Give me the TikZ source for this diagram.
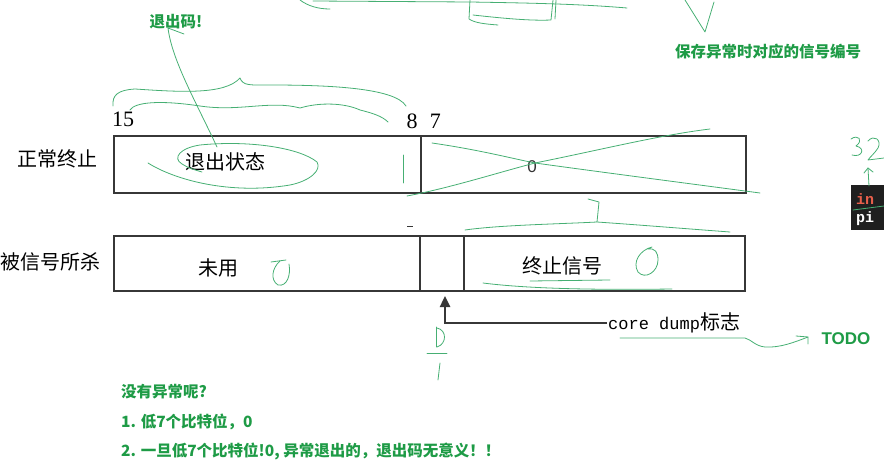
\documentclass[tikz,border=0pt]{standalone}
\usepackage{fontspec}
\usetikzlibrary{arrows.meta,positioning}
\newfontfamily\cjk{Noto Sans CJK SC}
\newfontfamily\numfont{Liberation Serif}
\newfontfamily\monofont{Liberation Mono}
\newfontfamily\latinsans{Liberation Sans}
\definecolor{notegreen}{RGB}{30,155,70}
\definecolor{pengreen}{RGB}{70,175,115}
\definecolor{boxgray}{RGB}{55,55,55}
\definecolor{codered}{RGB}{232,95,75}

\begin{document}
\begin{tikzpicture}[x=1pt, y=-1pt,
    field/.style={draw=boxgray, line width=2.2pt, anchor=north west, inner sep=0pt},
    rowlabel/.style={font=\cjk\fontsize{20}{24}\selectfont, inner sep=0pt},
    fieldtext/.style={font=\cjk\fontsize{20}{24}\selectfont, inner sep=0pt},
    bitnum/.style={font=\numfont\fontsize{22}{26}\selectfont, inner sep=0pt},
    note/.style={font=\cjk\bfseries\fontsize{15.5}{18}\selectfont, text=notegreen, inner sep=0pt},
    pen/.style={draw=pengreen, line width=0.8pt, line cap=round, line join=round},
    dumpline/.style={draw=boxgray, line width=2.4pt, -{Triangle[length=11pt, width=10pt]}}]
    \useasboundingbox (0,0) rectangle (884,468);

    \node (hi1) [field, minimum width=307pt, minimum height=57pt] at (113,135) {};
    \node (lo1) [field, minimum width=325pt, minimum height=57pt] at (420,135) {};
    \node (hi2) [field, minimum width=306pt, minimum height=55pt] at (113,235) {};
    \node (core2) [field, minimum width=44pt, minimum height=55pt] at (419,235) {};
    \node (sig2) [field, minimum width=281pt, minimum height=55pt] at (463,235) {};

    \node (b15) [bitnum] at (123,119) {15};
    \node (b8) [bitnum] at (412,121) {8};
    \node (b7) [bitnum, right=12pt of b8] {7};

    \node (normal) [rowlabel] at (57,159) {正常终止};
    \node (killed) [rowlabel, anchor=east] at (101,262) {被信号所杀};

    \node (exitstatus) [fieldtext] at (225,162) {退出状态};
    \node (zero) [font=\latinsans\fontsize{17}{20}\selectfont, inner sep=0pt, text=black!80] at (532,167) {0};
    \node (unused) [fieldtext] at (218,268) {未用};
    \node (termsig) [fieldtext] at (562,266) {终止信号};

    \coordinate (corebit) at (445,296);
    \node (cdlabel) [anchor=west, inner sep=1pt, font=\cjk\fontsize{20}{24}\selectfont] at (607,323) {{\monofont\fontsize{17}{20}\selectfont core dump}标志};
    \draw[dumpline] (cdlabel.west) -| (corebit);
    \draw[boxgray, line width=1pt] (407,226) -- (413,226);

    \node (exitcode) [note] at (176,22) {退出码!};
    \node (savesig) [note] at (768,52) {保存异常时对应的信号编号};
    \node (todo) [note, font=\latinsans\bfseries\fontsize{17}{20}\selectfont] at (846,339) {TODO};
    \node (q) [note, anchor=west] at (121,392) {没有异常呢?};
    \node (a1) [note, anchor=west] at (121,422) {1. 低7个比特位，0};
    \node (a2) [note, anchor=west] at (121,451) {2. 一旦低7个比特位!0, 异常退出的，退出码无意义！！};

    \node (term) [fill=black!88, minimum width=40pt, minimum height=45pt, anchor=north west] at (851,185) {};
    \node (termin) [anchor=west, inner sep=0pt, text=codered, font=\monofont\bfseries\fontsize{15}{17}\selectfont] at (856,199) {in};
    \node (termpi) [anchor=west, inner sep=0pt, text=white, font=\monofont\bfseries\fontsize{15}{17}\selectfont] at (856,219) {pi};

    \draw[pen] (300,0) .. controls (308,6) and (318,9) .. (330,9);
    \draw[pen] (313,1) -- (470,2) .. controls (530,3) and (580,4) .. (627,8);
    \draw[pen] (470,0) -- (469,19) .. controls (475,23) and (485,24) .. (498,25);
    \draw[pen] (473,15) .. controls (500,18) and (530,21) .. (551,20) -- (553,0);
    \draw[pen] (556,0) -- (555,19);
    \draw[pen] (685,0) -- (705,32) -- (714,2);

    \draw[pen] (113,106) .. controls (112,95) and (118,90) .. (135,89) .. controls (180,92) and (225,95) .. (240,78) .. controls (243,86) and (250,85) .. (270,85) .. controls (330,85) and (395,88) .. (406,106);
    \draw[pen] (130,110) .. controls (135,102) and (160,100) .. (200,106) .. controls (240,112) and (270,100) .. (300,108) .. controls (320,102) and (345,103) .. (360,110) .. controls (372,113) and (382,116) .. (388,122);
    \draw[pen] (217,147) .. controls (195,100) and (172,60) .. (168,28) -- (184,34);
    \draw[pen] (148,163) .. controls (175,180) and (230,195) .. (290,185) .. controls (310,181) and (322,170) .. (317,162) .. controls (300,148) and (250,140) .. (200,145) .. controls (180,148) and (172,158) .. (182,164) .. controls (188,168) and (195,170) .. (202,172);
    \draw[pen] (403,155) -- (403,183);
    \draw[pen] (432,143) .. controls (480,150) and (510,158) .. (535,163) .. controls (600,172) and (700,185) .. (760,193);
    \draw[pen] (407,196) .. controls (450,188) and (500,172) .. (535,163) .. controls (600,150) and (660,135) .. (710,129);

    \draw[pen] (465,230) .. controls (500,225) and (560,224) .. (597,222) -- (599,202) -- (588,199);
    \draw[pen] (597,222) .. controls (640,225) and (690,229) .. (730,232);
    \draw[pen] (483,283) .. controls (530,289) and (600,290) .. (672,289);
    \draw[pen] (530,281) -- (610,280);
    \draw[pen] (652,247) .. controls (640,250) and (632,262) .. (638,272) .. controls (645,280) and (658,272) .. (658,260) .. controls (658,252) and (655,248) .. (648,249);
    \draw[pen] (271,262) -- (286,260);
    \draw[pen] (280,261) .. controls (272,268) and (270,280) .. (278,285) .. controls (287,287) and (291,275) .. (289,264);

    \draw[pen] (436,327) -- (436,347);
    \draw[pen] (437,328) .. controls (447,330) and (447,344) .. (437,347);
    \draw[pen] (427,353) -- (447,353);
    \draw[pen] (440,363) -- (438,380);

    \draw[pen] (620,338) -- (745,338) .. controls (752,340) and (755,346) .. (765,347) .. controls (780,348) and (795,342) .. (808,337);
    \draw[pen] (796,336) -- (808,337) -- (808,344);

    \draw[pen] (851,139) .. controls (858,134) and (864,140) .. (856,146) .. controls (866,148) and (862,158) .. (852,155);
    \draw[pen] (868,141) .. controls (874,134) and (882,140) .. (878,148) .. controls (875,153) and (870,157) .. (868,160) -- (884,158);
    \draw[pen] (869,186) -- (868,168);
    \draw[pen] (864,173) -- (868,168) -- (873,172);
    \draw[pen] (853,210) -- (884,206);
\end{tikzpicture}
\end{document}
